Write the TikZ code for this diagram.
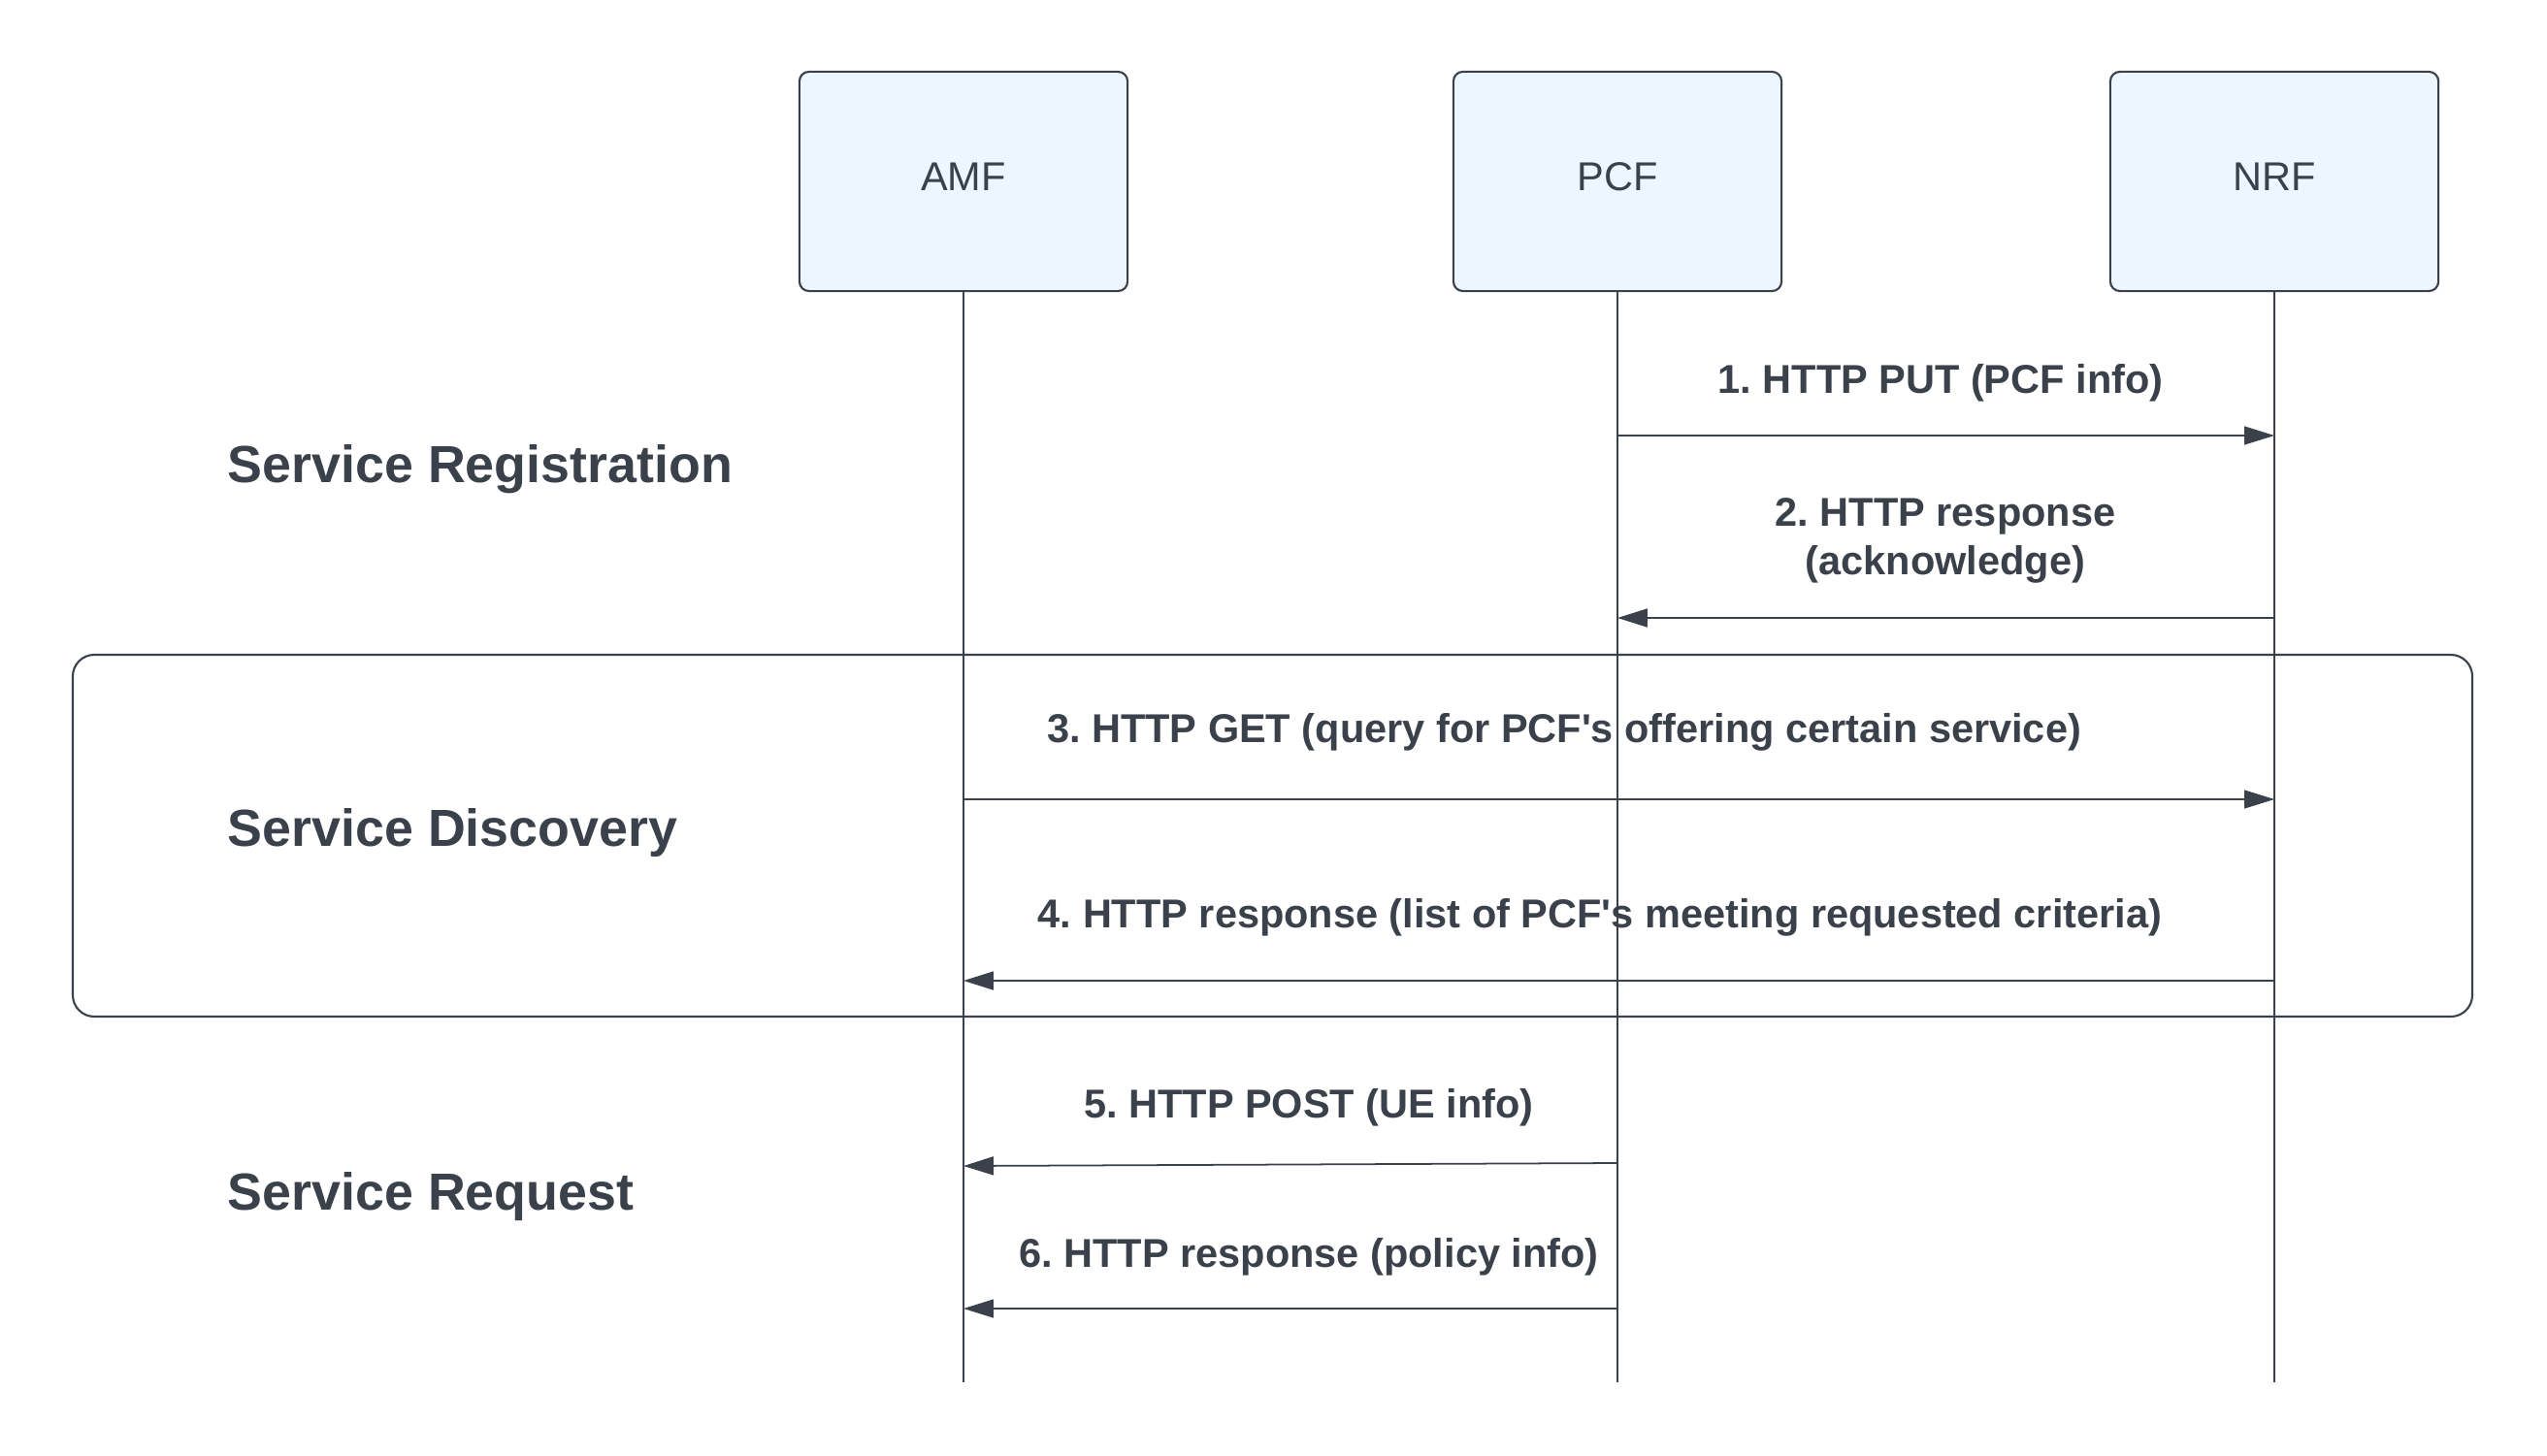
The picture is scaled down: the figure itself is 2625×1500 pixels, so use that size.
\documentclass[tikz,border=0pt]{standalone}
\usepackage{fontspec}
\setmainfont{Liberation Sans}
\usetikzlibrary{arrows.meta}
\definecolor{ink}{HTML}{3A414A}
\definecolor{boxfill}{HTML}{EDF5FF}
\frenchspacing

\begin{document}
\begin{tikzpicture}[x=0.01cm, y=-0.01cm,
    nf/.style={draw=ink, line width=0.6pt, fill=boxfill, rounded corners=2.8pt,
      minimum width=3.38cm, minimum height=2.26cm, text=ink, text depth=2.85pt,
      font=\fontsize{11.8}{14}\selectfont},
    life/.style={draw=ink, line width=0.55pt},
    msg/.style={draw=ink, line width=0.3pt, -{Triangle[length=8.8pt,width=5.4pt]}},
    msgb/.style={msg, line width=0.5pt},
    lbl/.style={text=ink, align=center, font=\bfseries\fontsize{11.8}{14.2}\selectfont},
    phase/.style={text=ink, anchor=west, inner sep=0pt, font=\bfseries\fontsize{15.3}{18}\selectfont}]
  \useasboundingbox (0,0) rectangle (2625,1500);

  % network functions and their lifelines
  \node[nf] (amf) at (993,187) {AMF};
  \node[nf] (pcf) at (1667,187) {PCF};
  \node[nf] (nrf) at (2344,187) {NRF};
  \coordinate (amfend) at (993,1425);
  \coordinate (pcfend) at (1667,1425);
  \coordinate (nrfend) at (2344,1425);
  \draw[life] (amf.south) -- (amfend);
  \draw[life] (pcf.south) -- (pcfend);
  \draw[life] (nrf.south) -- (nrfend);

  % discovery frame
  \draw[ink, line width=0.6pt, rounded corners=6.3pt] (75,675) rectangle (2548,1048);

  % phases
  \node[phase] (reg) at (234,484) {Service Registration};
  \node[phase] (disc) at (234,859) {Service Discovery};
  \node[phase] (req) at (234,1234) {Service Request};

  % message heights
  \coordinate (m1) at (0,449);
  \coordinate (m2) at (0,637);
  \coordinate (m3) at (0,824);
  \coordinate (m4) at (0,1011);
  \coordinate (m5a) at (0,1199);
  \coordinate (m5b) at (0,1202);
  \coordinate (m6) at (0,1349);

  \draw[msg] (pcf |- m1) -- (nrf |- m1);
  \draw[msgb] (nrf |- m2) -- (pcf |- m2);
  \draw[msg] (amf |- m3) -- (nrf |- m3);
  \draw[msgb] (nrf |- m4) -- (amf |- m4);
  \draw[msgb] (pcf |- m5a) -- (amf |- m5b);
  \draw[msg] (pcf |- m6) -- (amf |- m6);

  \node[lbl] (l1) at (2000,395) {1. HTTP PUT (PCF info)};
  \node[lbl] (l2) at (2005,557) {2. HTTP response\\(acknowledge)};
  \node[lbl] (l3) at (1612,755) {3. HTTP GET (query for PCF\textquotesingle s offering certain service)};
  \node[lbl] (l4) at (1649,946) {4. HTTP response (list of PCF\textquotesingle s meeting requested criteria)};
  \node[lbl] (l5) at (1349,1142) {5. HTTP POST (UE info)};
  \node[lbl] (l6) at (1349,1296) {6. HTTP response (policy info)};
\end{tikzpicture}
\end{document}
